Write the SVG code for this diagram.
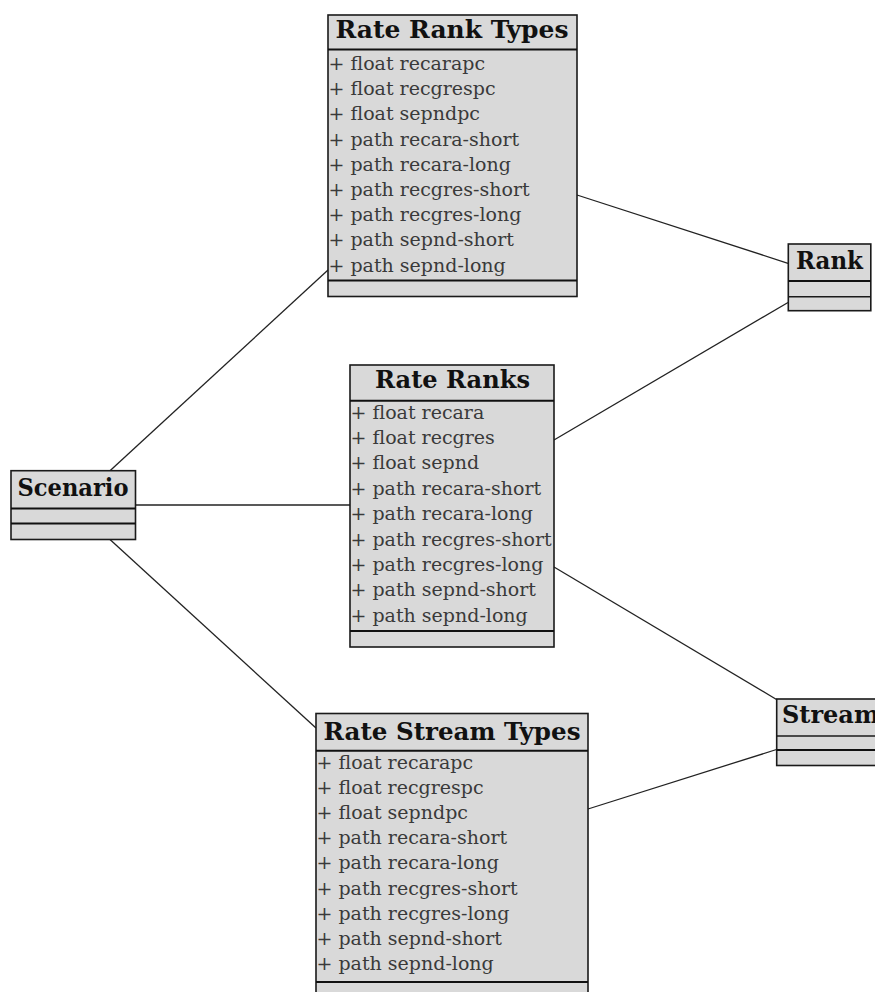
<svg xmlns="http://www.w3.org/2000/svg" width="875" height="992" viewBox="0 0 875 992">
  <style>
    .box { fill: #d9d9d9; stroke: #1a1a1a; stroke-width: 1.6; }
    .sep { stroke: #111; stroke-width: 2; }
    .sep-thin { stroke: #1a1a1a; stroke-width: 1.5; }
    .title { font-family: "DejaVu Serif", "Liberation Serif", serif; font-weight: bold; font-size: 24px; fill: #111; text-anchor: middle; }
    .attr { font-family: "DejaVu Serif", "Liberation Serif", serif; font-size: 19px; fill: #3a3a3a; }
    .link { stroke: #222; stroke-width: 1.3; fill: none; }
  </style>
  <rect width="875" height="992" fill="#ffffff"/>

  <!-- associations between classes -->
  <g id="connectors">
    <line class="link" x1="577" y1="195" x2="788" y2="263.3"/>
    <line class="link" x1="554" y1="440" x2="788" y2="302.5"/>
    <line class="link" x1="554" y1="567" x2="776.5" y2="699.5"/>
    <line class="link" x1="776.5" y1="749.5" x2="588" y2="809"/>
    <line class="link" x1="110" y1="470.7" x2="328" y2="270"/>
    <line class="link" x1="135.5" y1="505" x2="350" y2="505"/>
    <line class="link" x1="110" y1="539.5" x2="316" y2="728"/>
  </g>

  <!-- Rate Rank Types -->
  <g id="rate-rank-types">
    <rect class="box" x="328" y="15" width="249" height="281.5"/>
    <line class="sep" x1="328" y1="49.5" x2="577" y2="49.5"/>
    <line class="sep" x1="328" y1="280.5" x2="577" y2="280.5"/>
    <text class="title" x="452" y="38" textLength="233" lengthAdjust="spacingAndGlyphs">Rate Rank Types</text>
    <text class="attr" x="328.5" y="70">+ float recarapc</text>
    <text class="attr" x="328.5" y="95.2">+ float recgrespc</text>
    <text class="attr" x="328.5" y="120.4">+ float sepndpc</text>
    <text class="attr" x="328.5" y="145.6">+ path recara-short</text>
    <text class="attr" x="328.5" y="170.8">+ path recara-long</text>
    <text class="attr" x="328.5" y="196">+ path recgres-short</text>
    <text class="attr" x="328.5" y="221.2">+ path recgres-long</text>
    <text class="attr" x="328.5" y="246.4">+ path sepnd-short</text>
    <text class="attr" x="328.5" y="271.6">+ path sepnd-long</text>
  </g>

  <!-- Rate Ranks -->
  <g id="rate-ranks">
    <rect class="box" x="350" y="365" width="204" height="282"/>
    <line class="sep" x1="350" y1="400.7" x2="554" y2="400.7"/>
    <line class="sep" x1="350" y1="631" x2="554" y2="631"/>
    <text class="title" x="452.5" y="388" textLength="155" lengthAdjust="spacingAndGlyphs">Rate Ranks</text>
    <text class="attr" x="350.5" y="418.5">+ float recara</text>
    <text class="attr" x="350.5" y="443.9">+ float recgres</text>
    <text class="attr" x="350.5" y="469.3">+ float sepnd</text>
    <text class="attr" x="350.5" y="494.7">+ path recara-short</text>
    <text class="attr" x="350.5" y="520.1">+ path recara-long</text>
    <text class="attr" x="350.5" y="545.5">+ path recgres-short</text>
    <text class="attr" x="350.5" y="570.9">+ path recgres-long</text>
    <text class="attr" x="350.5" y="596.3">+ path sepnd-short</text>
    <text class="attr" x="350.5" y="621.7">+ path sepnd-long</text>
  </g>

  <!-- Rate Stream Types -->
  <g id="rate-stream-types">
    <rect class="box" x="316" y="713.5" width="272" height="290"/>
    <line class="sep" x1="316" y1="750.7" x2="588" y2="750.7"/>
    <line class="sep" x1="316" y1="982" x2="588" y2="982"/>
    <text class="title" x="452" y="740" textLength="257" lengthAdjust="spacingAndGlyphs">Rate Stream Types</text>
    <text class="attr" x="316.5" y="768.5">+ float recarapc</text>
    <text class="attr" x="316.5" y="793.7">+ float recgrespc</text>
    <text class="attr" x="316.5" y="818.9">+ float sepndpc</text>
    <text class="attr" x="316.5" y="844.1">+ path recara-short</text>
    <text class="attr" x="316.5" y="869.3">+ path recara-long</text>
    <text class="attr" x="316.5" y="894.5">+ path recgres-short</text>
    <text class="attr" x="316.5" y="919.7">+ path recgres-long</text>
    <text class="attr" x="316.5" y="944.9">+ path sepnd-short</text>
    <text class="attr" x="316.5" y="970.1">+ path sepnd-long</text>
  </g>

  <!-- Scenario -->
  <g id="scenario">
    <rect class="box" x="11" y="470.7" width="124.5" height="68.8"/>
    <line class="sep" x1="11" y1="508.5" x2="135.5" y2="508.5"/>
    <line class="sep" x1="11" y1="523.5" x2="135.5" y2="523.5"/>
    <text class="title" x="73" y="496" textLength="111" lengthAdjust="spacingAndGlyphs">Scenario</text>
  </g>

  <!-- Rank -->
  <g id="rank">
    <rect class="box" x="788.3" y="244" width="82.5" height="66.7"/>
    <line class="sep" x1="788.3" y1="281" x2="870.8" y2="281"/>
    <line class="sep-thin" x1="788.3" y1="296.7" x2="870.8" y2="296.7"/>
    <text class="title" x="829.5" y="269" textLength="67" lengthAdjust="spacingAndGlyphs">Rank</text>
  </g>

  <!-- Stream -->
  <g id="stream">
    <rect class="box" x="776.7" y="699" width="112" height="66.5"/>
    <line class="sep-thin" x1="776.7" y1="736" x2="888.7" y2="736"/>
    <line class="sep" x1="776.7" y1="750" x2="888.7" y2="750"/>
    <text class="title" x="782" y="723" style="text-anchor: start">Stream</text>
  </g>
</svg>
